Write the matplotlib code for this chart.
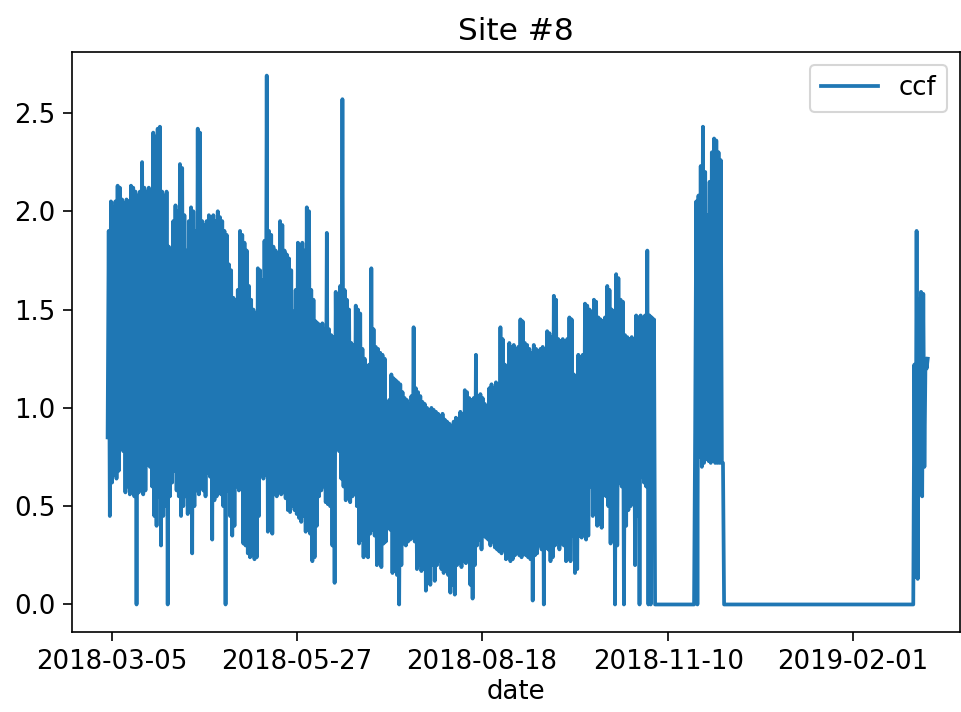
import numpy as np
import pandas as pd
import matplotlib
matplotlib.use("Agg")
import matplotlib.pyplot as plt
import matplotlib.dates as mdates

# daily low / high of ccf, main block starting 2018-03-03
main_start = "2018-03-03"
main_low = [
    0.85, 0.45, 0.62, 0.66, 0.64, 0.68, 0.80, 0.78, 0.57, 0.60,
    0.56, 0.58, 0.55, 0.00, 0.57, 0.60, 0.56, 0.58, 0.71, 0.70,
    0.60, 0.45, 0.40, 0.55, 0.30, 0.45, 0.50, 0.00, 0.55, 0.62,
    0.68, 0.58, 0.55, 0.45, 0.50, 0.55, 0.46, 0.48, 0.26, 0.50,
    0.58, 0.56, 0.60, 0.58, 0.55, 0.67, 0.65, 0.33, 0.53, 0.55,
    0.57, 0.56, 0.50, 0.00, 0.58, 0.45, 0.35, 0.40, 0.60, 0.58,
    0.62, 0.31, 0.30, 0.26, 0.24, 0.25, 0.23, 0.24, 0.45, 0.66,
    0.64, 0.66, 0.37, 0.38, 0.36, 0.56, 0.55, 0.58, 0.56, 0.57,
    0.54, 0.48, 0.47, 0.50, 0.48, 0.46, 0.44, 0.42, 0.45, 0.37,
    0.38, 0.36, 0.22, 0.24, 0.40, 0.55, 0.58, 0.60, 0.52, 0.51,
    0.50, 0.30, 0.11, 0.80, 0.78, 0.64, 0.60, 0.53, 0.54, 0.52,
    0.55, 0.56, 0.50, 0.31, 0.33, 0.24, 0.25, 0.24, 0.36, 0.38,
    0.35, 0.20, 0.22, 0.19, 0.31, 0.32, 0.40, 0.38, 0.16, 0.17,
    0.15, 0.00, 0.20, 0.31, 0.30, 0.32, 0.33, 0.34, 0.32, 0.18,
    0.20, 0.17, 0.18, 0.07, 0.19, 0.10, 0.20, 0.12, 0.20, 0.22,
    0.18, 0.16, 0.17, 0.15, 0.06, 0.10, 0.05, 0.20, 0.21, 0.19,
    0.22, 0.21, 0.23, 0.10, 0.03, 0.20, 0.30, 0.33, 0.28, 0.35,
    0.34, 0.33, 0.30, 0.32, 0.29, 0.28, 0.27, 0.26, 0.28, 0.23,
    0.24, 0.22, 0.23, 0.25, 0.51, 0.25, 0.24, 0.26, 0.25, 0.24,
    0.23, 0.02, 0.25, 0.26, 0.30, 0.28, 0.00, 0.29, 0.28, 0.22,
    0.24, 0.30, 0.32, 0.28, 0.31, 0.30, 0.22, 0.23, 0.22, 0.35,
    0.16, 0.18, 0.35, 0.34, 0.36, 0.33, 0.35, 0.60, 0.45, 0.47,
    0.40, 0.41, 0.39, 0.56, 0.55, 0.50, 0.31, 0.33, 0.00, 0.30,
    0.62, 0.60, 0.00, 0.40, 0.48, 0.50, 0.62, 0.20, 0.45, 0.00,
    0.65, 0.62, 0.60, 0.00, 0.00, 0.45, 0.00,
]
main_high = [
    1.90, 2.05, 2.02, 2.05, 2.13, 2.12, 2.06, 2.04, 2.06, 2.05,
    2.13, 2.12, 2.10, 2.08, 2.10, 2.25, 2.12, 2.10, 2.12, 2.00,
    2.40, 2.38, 2.42, 2.43, 2.10, 2.08, 2.10, 1.82, 1.80, 1.95,
    2.03, 2.00, 2.24, 2.22, 1.98, 1.80, 1.95, 2.02, 2.00, 1.90,
    2.42, 2.40, 1.95, 1.93, 1.95, 1.98, 1.70, 1.98, 1.95, 2.00,
    1.97, 1.95, 1.90, 1.88, 1.73, 1.70, 1.56, 1.55, 1.60, 1.90,
    1.88, 1.84, 1.80, 1.62, 1.55, 1.50, 1.48, 1.71, 1.70, 1.65,
    1.85, 2.69, 1.90, 1.88, 1.82, 1.80, 1.78, 1.95, 1.93, 1.80,
    1.78, 1.76, 1.70, 1.49, 1.60, 1.84, 1.82, 1.84, 1.80, 2.02,
    2.00, 1.60, 1.55, 1.44, 1.43, 1.42, 1.43, 1.40, 1.89, 1.40,
    1.37, 1.36, 1.59, 1.58, 1.62, 2.57, 1.60, 1.55, 1.50, 1.33,
    1.32, 1.52, 1.50, 1.48, 1.30, 1.25, 1.20, 1.22, 1.71, 1.40,
    1.31, 1.30, 1.28, 1.27, 1.25, 1.02, 1.04, 1.17, 1.15, 1.14,
    1.13, 1.12, 1.08, 1.05, 1.04, 1.02, 1.06, 1.41, 1.10, 1.08,
    1.06, 1.03, 1.02, 1.00, 0.99, 1.00, 0.99, 0.98, 0.97, 0.96,
    0.97, 0.94, 0.93, 0.92, 0.91, 0.93, 0.95, 0.94, 0.98, 0.97,
    1.09, 1.08, 1.05, 1.04, 1.05, 1.27, 1.06, 1.07, 1.05, 1.02,
    1.01, 1.10, 1.12, 1.10, 1.13, 1.12, 1.41, 1.35, 1.22, 1.20,
    1.33, 1.31, 1.32, 1.30, 1.31, 1.45, 1.44, 1.33, 1.32, 1.30,
    1.28, 1.32, 1.30, 1.29, 1.30, 1.31, 1.29, 1.39, 1.38, 1.36,
    1.57, 1.55, 1.35, 1.34, 1.35, 1.33, 1.35, 1.46, 1.45, 1.17,
    1.15, 1.27, 1.26, 1.27, 1.53, 1.52, 1.50, 1.49, 1.55, 1.54,
    1.46, 1.45, 1.44, 1.46, 1.62, 1.60, 1.50, 1.49, 1.68, 1.66,
    1.55, 1.54, 1.37, 1.36, 1.35, 1.36, 1.35, 1.47, 1.46, 1.47,
    1.45, 1.47, 1.80, 1.47, 1.46, 1.45, 0.00,
]

# short burst in late November 2018
nov_start = "2018-11-22"
nov_low = [0.88, 0.00, 0.75, 0.70, 0.72, 0.74, 0.73, 0.72, 0.74, 0.72, 0.72, 0.72, 0.72]
nov_high = [2.05, 2.08, 2.23, 2.43, 2.20, 1.98, 2.15, 2.30, 2.37, 2.36, 2.30, 2.26, 0.72]

# last burst around the start of March 2019
mar_start = "2019-02-28"
mar_low = [0.00, 0.14, 0.13, 0.60, 0.55, 0.70, 1.20]
mar_high = [1.22, 1.90, 1.55, 1.59, 1.58, 1.25, 1.25]

tick_dates = ["2018-03-05", "2018-05-27", "2018-08-18", "2018-11-10", "2019-02-01"]


def block(start, low, high):
    idx = pd.date_range(start, periods=2 * len(low), freq="12h")
    vals = np.column_stack([low, high]).ravel()
    return pd.Series(vals, index=idx)


parts = [block(main_start, main_low, main_high),
         block(nov_start, nov_low, nov_high),
         block(mar_start, mar_low, mar_high)]
ccf = pd.concat(parts)
full_idx = pd.date_range(ccf.index[0], ccf.index[-1], freq="12h")
ccf = ccf.reindex(full_idx).fillna(0.0)

plt.rcParams["font.size"] = 12.5
plt.rcParams["xtick.major.size"] = 4.5
plt.rcParams["ytick.major.size"] = 4.5

fig = plt.figure(figsize=(961 / 150, 712 / 150), dpi=150)
ax = fig.add_axes([72 / 961, 80 / 712, (960 - 72) / 961, (632 - 52) / 712])
ax.plot(ccf.index, ccf.values, color="#1f77b4", lw=1.8, label="ccf")

ax.set_xticks(pd.to_datetime(tick_dates))
ax.xaxis.set_major_formatter(mdates.DateFormatter("%Y-%m-%d"))
ax.set_xlim(pd.Timestamp("2018-02-15"), pd.Timestamp("2019-03-21"))
ax.set_ylim(-0.14, 2.81)
ax.set_yticks([0.0, 0.5, 1.0, 1.5, 2.0, 2.5])
ax.set_xlabel("date", labelpad=2)
ax.set_title("Site #8", fontsize=15)
ax.legend(loc="upper right", handlelength=2.2)

fig.savefig("out.png", dpi=150)
